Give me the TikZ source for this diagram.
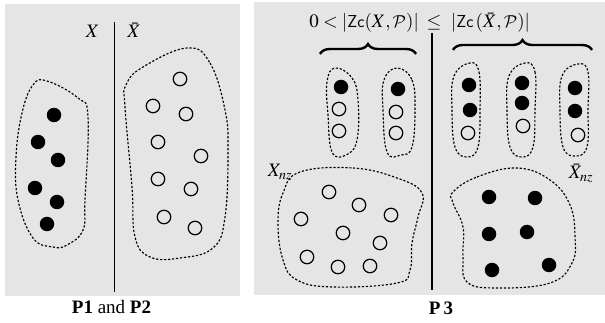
\documentclass[tikz,border=0pt]{standalone}
\usepackage{mathptmx}
\DeclareMathAlphabet{\mathcal}{OMS}{cmsy}{m}{n}
\usepackage{fontspec}
\setmainfont{Liberation Serif}
\usetikzlibrary{decorations.pathreplacing}
\definecolor{panelgray}{RGB}{229,229,229}
\tikzset{
  panel/.style={fill=panelgray,draw=none},
  blob/.style={draw,dash pattern=on 2.2pt off 1.8pt,line width=1.15pt},
  odot/.style={circle,draw,line width=1.2pt,minimum size=13.5pt,inner sep=0pt},
  fdot/.style={circle,fill=black,minimum size=14.5pt,inner sep=0pt},
  sep/.style={line width=1.1pt},
  lab/.style={inner sep=0pt,font=\fontsize{19}{23}\selectfont},
  bigbrace/.style={decorate,decoration={brace,amplitude=10pt},line width=2.4pt},
}
\begin{document}
\begin{tikzpicture}[x=1pt,y=-1pt]
\useasboundingbox (0,0) rectangle (605,323);
% panels
\fill[panel] (5,4) rectangle (240,296);
\fill[panel] (254,2) rectangle (605,295);
% separators
\coordinate (l1) at (114.5,22); \coordinate (l2) at (114.5,292);
\coordinate (r1) at (432,33); \coordinate (r2) at (432,290);
\draw[sep] (l1) -- (l2);
\draw[sep] (r1) -- (r2);
% left panel labels
\node[lab,anchor=base] (X) at (92.5,38) {$X$};
\node[lab,anchor=base] (Xb) at (134,38) {$\bar{X}$};
% left panel blobs
\draw[blob] plot[smooth cycle,tension=0.7] coordinates {(47,81) (78,98) (88,117) (85,200) (83,230) (67,245) (53,247) (33,238) (18,200) (16,157) (22,113) (33,85)};
\draw[blob] plot[smooth cycle,tension=0.7] coordinates {(187,48) (210,63) (225,110) (228,150) (225,217) (213,248) (180,258) (150,257) (135,237) (132,187) (125,107) (126,85) (143,67)};
% left filled dots
\foreach \i/\p in {1/{(54,115)},2/{(38,142)},3/{(58,160)},4/{(35,188)},5/{(57,202)},6/{(47,224)}}
  \node[fdot] (a\i) at \p {};
% open dots (left panel)
\foreach \i/\p in {1/{(180,79)},2/{(153,106)},3/{(186,114)},4/{(158,142)},5/{(201,156)},6/{(158,179)},7/{(191,189)},8/{(164,217)},9/{(195,228)}}
  \node[odot] (b\i) at \p {};
\node[lab,anchor=base] (cap1) at (111.5,313) {\textbf{P1} and \textbf{P2}};
% right panel formula
\node[lab,anchor=base east] (f1) at (419,28) {$0<|\mathsf{Zc}(X,\mathcal{P})|$};
\node[lab,anchor=base] (f2) at (434,28) {$\le$};
\node[lab,anchor=base west] (f3) at (451,28) {$|\mathsf{Zc}\,(\bar{X},\mathcal{P})|$};
% braces
\coordinate (bl1) at (320,54); \coordinate (bl2) at (416,54);
\coordinate (br1) at (453,50); \coordinate (br2) at (592,50);
\draw[bigbrace] (bl1) -- (bl2);
\draw[bigbrace] (br1) -- (br2);
% small blobs
\draw[blob] plot[smooth cycle,tension=0.7] coordinates {(335,68) (352,78) (358,100) (357,140) (346,155) (332,152) (328,115) (327,82)};
\draw[blob] plot[smooth cycle,tension=0.7] coordinates {(397,68) (412,80) (415,110) (412,147) (401,155) (387,152) (383,110) (384,80)};
\draw[blob] plot[smooth cycle,tension=0.7] coordinates {(470,63) (479,72) (480,110) (478,147) (467,157) (455,147) (452,110) (454,76)};
\draw[blob] plot[smooth cycle,tension=0.7] coordinates {(525,63) (535,72) (535,110) (533,147) (522,157) (510,147) (507,110) (509,76)};
\draw[blob] plot[smooth cycle,tension=0.7] coordinates {(578,64) (588,72) (588,110) (587,147) (575,156) (563,147) (560,110) (562,76)};
% small blob dots
\node[fdot] (c1) at (341,87) {};
\node[odot] (c2) at (339,109) {};
\node[odot] (c3) at (339,131) {};
\node[fdot] (d1) at (398,89) {};
\node[odot] (d2) at (396,112) {};
\node[odot] (d3) at (396,133) {};
\node[fdot] (e1) at (469,85) {};
\node[fdot] (e2) at (470,110) {};
\node[odot] (e3) at (468,133) {};
\node[fdot] (g1) at (522,83) {};
\node[fdot] (g2) at (522,103) {};
\node[odot] (g3) at (523,126) {};
\node[fdot] (h1) at (575,88) {};
\node[fdot] (h2) at (575,111) {};
\node[odot] (h3) at (578,135) {};
% big blobs
\node[lab,anchor=base] (Xnz) at (280,177) {$X_{nz}$};
\node[lab,anchor=base] (Xbnz) at (581,179) {$\bar{X}_{nz}$};
\draw[blob] plot[smooth cycle,tension=0.7] coordinates {(300,172) (353,168) (397,178) (422,193) (418,217) (412,243) (410,270) (397,283) (333,287) (297,280) (283,260) (278,223) (283,193)};
\draw[blob] plot[smooth cycle,tension=0.7] coordinates {(453,192) (477,177) (517,168) (550,180) (570,205) (575,237) (572,263) (550,283) (497,288) (467,282) (463,257) (463,227) (453,203)};
\foreach \i/\p in {1/{(329,192)},2/{(359,205)},3/{(301,219)},4/{(391,215)},5/{(343,233)},6/{(380,243)},7/{(307,257)},8/{(338,267)},9/{(370,266)}}
  \node[odot] (m\i) at \p {};
\foreach \i/\p in {1/{(489,197)},2/{(535,198)},3/{(489,234)},4/{(527,232)},5/{(492,270)},6/{(549,265)}}
  \node[fdot] (n\i) at \p {};
\node[lab,anchor=base] (cap2) at (441,314) {\textbf{P\,3}};
\end{tikzpicture}
\end{document}
